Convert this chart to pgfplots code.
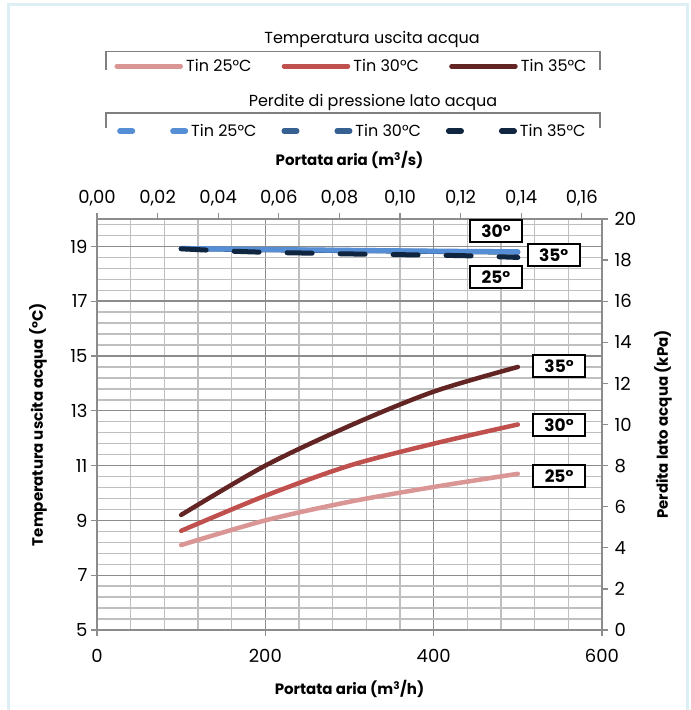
\documentclass[border=0pt]{standalone}
\usepackage{fontspec}
\setmainfont{Poppins}
\usepackage{pgfplots}
\pgfplotsset{compat=1.18}
\definecolor{rA}{HTML}{D99694}
\definecolor{rB}{HTML}{C0504D}
\definecolor{rC}{HTML}{632523}
\definecolor{bA}{HTML}{558ED5}
\definecolor{bB}{HTML}{376092}
\definecolor{bC}{HTML}{10253F}
\definecolor{framec}{HTML}{DDEEF4}
\definecolor{gmaj}{HTML}{8C8C8C}
\definecolor{gmin}{HTML}{BFBFBF}
\definecolor{brk}{HTML}{7F7F7F}
\tikzset{lbl/.style={draw=black, line width=1.8pt, fill=white, font=\bfseries\fontsize{17}{17}\selectfont, minimum width=52pt, minimum height=22pt, inner sep=1pt}}
\pgfplotsset{
  common/.style={
    at={(97pt,80pt)}, anchor=south west, scale only axis,
    width=505pt, height=411pt,
    axis line style={-, gmaj, line width=1.3pt},
    tick align=outside, major tick length=6pt, minor tick length=0pt,
    every tick/.style={gmaj, line width=1.3pt},
    /pgf/number format/assume math mode=true,
    tick label style={font=\fontsize{18}{18}\selectfont, black},
  },
  redleg/.style={legend image code/.code={\path[draw=none, fill=none] (0pt,-3pt) rectangle (69pt,3pt);
    \draw[##1, line cap=round] (2.5pt,0pt) -- (66.5pt,0pt);}},
  blueleg/.style={legend image code/.code={\path[draw=none, fill=none] (0pt,-3pt) rectangle (71pt,3pt);
    \draw[##1, line cap=round] (2.75pt,0pt) -- (15.25pt,0pt);
    \draw[##1, line cap=round] (55.75pt,0pt) -- (68.25pt,0pt);}},
}
\begin{document}
\begin{tikzpicture}[x=1pt,y=1pt]
\useasboundingbox (0,0) rectangle (691,710);
\fill[white] (0,0) rectangle (691,710);
\draw[framec, line width=3pt] (8,0) -- (8,705) -- (687,705) -- (687,0);

\begin{axis}[common,
  xmin=0, xmax=600, ymin=5, ymax=20,
  tick pos=left,
  xtick={0,200,400,600}, ytick={5,7,9,11,13,15,17,19},
  minor xtick={40,80,120,160,240,280,320,360,440,480,520,560},
  minor ytick={5.4,5.8,6.2,6.6,7.4,7.8,8.2,8.6,9.4,9.8,10.2,10.6,11.4,11.8,12.2,12.6,13.4,13.8,14.2,14.6,15.4,15.8,16.2,16.6,17.4,17.8,18.2,18.6,19.4,19.8},
  grid=both,
  major grid style={gmaj, line width=1.4pt},
  minor grid style={gmin, line width=1.4pt},
  x tick label style={yshift=-10pt},
  xlabel={Portata aria (m\textsuperscript{3}/h)},
  ylabel={Temperatura uscita acqua (°C)},
  every axis x label/.style={at={(axis description cs:0.5,-0.1436)}, anchor=center, font=\bfseries\fontsize{15}{15}\selectfont},
  every axis y label/.style={at={(axis description cs:-0.117,0.5)}, rotate=90, anchor=center, font=\bfseries\fontsize{15}{15}\selectfont},
  legend columns=3,
  legend style={at={(axis description cs:0.0337,1.3713)}, anchor=west, draw=none, fill=none,
    inner sep=0pt, font=\fontsize{16}{16}\selectfont, nodes={inner sep=3pt},
    /tikz/every even column/.append style={column sep=27pt}},
]
\addplot[rA, line width=4.5pt, smooth, line cap=round, redleg] coordinates {(100,8.1) (200,9.0) (300,9.68) (400,10.22) (500,10.7)};
\addlegendentry{Tin 25°C}
\addplot[rB, line width=4.5pt, smooth, line cap=round, redleg] coordinates {(100,8.62) (200,9.9) (300,11.0) (400,11.8) (500,12.5)};
\addlegendentry{Tin 30°C}
\addplot[rC, line width=4.5pt, smooth, line cap=round, redleg] coordinates {(100,9.2) (200,11.0) (300,12.45) (400,13.7) (500,14.6)};
\addlegendentry{Tin 35°C}
\node[lbl] at (axis cs:549,14.63) {35°};
\node[lbl] at (axis cs:549,12.48) {30°};
\node[lbl] at (axis cs:549,10.62) {25°};
\end{axis}

\begin{axis}[common,
  xmin=0, xmax=0.1666667, ymin=0, ymax=20,
  axis x line*=top, axis y line*=right,
  xtick={0,0.02,0.04,0.06,0.08,0.1,0.12,0.14,0.16},
  ytick={0,2,4,6,8,10,12,14,16,18,20},
  x tick label style={/pgf/number format/.cd, fixed, fixed zerofill, precision=2, use comma, /tikz/.cd, yshift=3pt},
  y tick label style={xshift=3pt},
  xlabel={Portata aria (m\textsuperscript{3}/s)},
  ylabel={Perdita lato acqua (kPa)},
  every axis x label/.style={at={(axis description cs:0.5,1.1436)}, anchor=center, font=\bfseries\fontsize{15}{15}\selectfont},
  every axis y label/.style={at={(axis description cs:1.121,0.5)}, rotate=90, anchor=center, font=\bfseries\fontsize{15}{15}\selectfont},
  legend columns=3,
  legend style={at={(axis description cs:0.0396,1.2141)}, anchor=west, draw=none, fill=none,
    inner sep=0pt, font=\fontsize{16}{16}\selectfont, nodes={inner sep=3pt},
    /tikz/every even column/.append style={column sep=22pt}},
]
\addplot[bB, line width=5pt, smooth, line cap=round, forget plot] coordinates {(0.02778,18.56) (0.05556,18.50) (0.08333,18.46) (0.11111,18.42) (0.13889,18.38)};
\addplot[bA, line width=5pt, smooth, line cap=round, forget plot] coordinates {(0.02778,18.57) (0.05556,18.52) (0.08333,18.48) (0.11111,18.44) (0.13889,18.41)};
\addplot[bC, line width=5pt, smooth, line cap=round, dash pattern=on 25pt off 28pt, forget plot] coordinates {(0.02778,18.55) (0.04167,18.45) (0.05556,18.38) (0.06944,18.34) (0.08333,18.30) (0.09722,18.27) (0.11111,18.24) (0.12500,18.20) (0.13889,18.13)};
\addlegendimage{bA, line width=5.5pt, blueleg}
\addlegendentry{Tin 25°C}
\addlegendimage{bB, line width=5.5pt, blueleg}
\addlegendentry{Tin 30°C}
\addlegendimage{bC, line width=5.5pt, blueleg}
\addlegendentry{Tin 35°C}
\node[lbl] at (axis cs:0.1317,19.42) {30°};
\node[lbl] at (axis cs:0.1507,18.25) {35°};
\node[lbl] at (axis cs:0.1317,17.18) {25°};
\end{axis}

\node[font=\fontsize{16}{16}\selectfont] at (372,671) {Temperatura uscita acqua};
\draw[brk, line width=1.5pt] (106,640) -- (106,658.5) -- (600,658.5) -- (600,640);
\node[font=\fontsize{16}{16}\selectfont] at (373,608) {Perdite di pressione lato acqua};
\draw[brk, line width=1.5pt] (106,582) -- (106,597) -- (600,597) -- (600,582);
\end{tikzpicture}
\end{document}
